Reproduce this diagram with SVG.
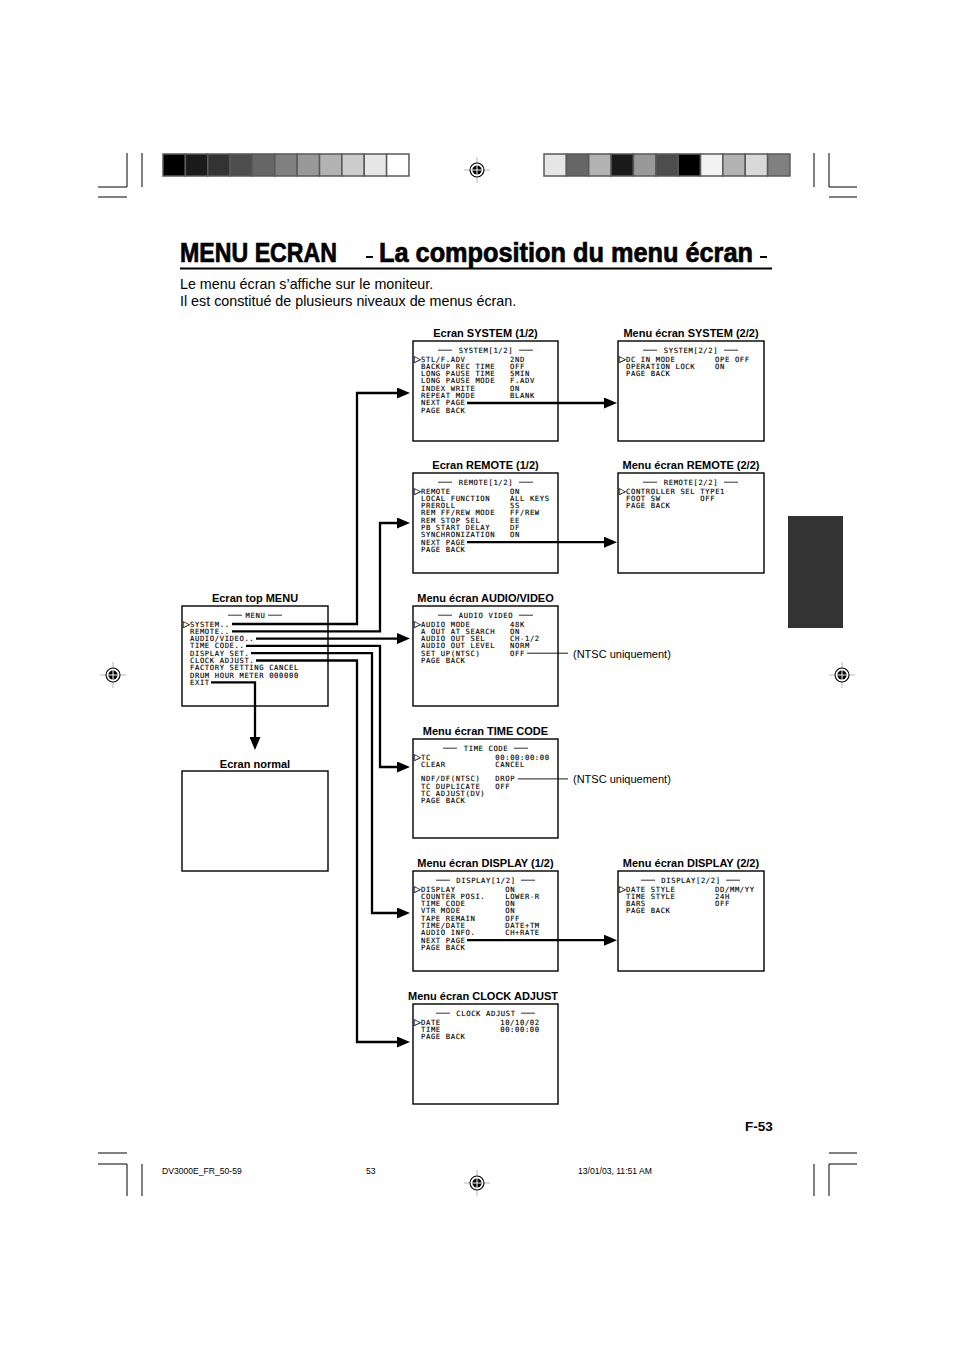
<svg xmlns="http://www.w3.org/2000/svg" width="954" height="1351" viewBox="0 0 954 1351">
<style>
.s{font-family:"DejaVu Sans Mono","Liberation Mono",monospace;font-size:7.2px;letter-spacing:0.62px;fill:#000;stroke:#000;stroke-width:0.12}
.h{font-family:"DejaVu Sans Mono","Liberation Mono",monospace;font-size:7.2px;letter-spacing:0.62px;fill:#000;stroke:#000;stroke-width:0.12;text-anchor:middle}
.p{font-family:"DejaVu Sans","Liberation Sans",sans-serif;font-size:9px;fill:#000;stroke:#000;stroke-width:0.2}
.t{font-family:"Liberation Sans",Arial,sans-serif;font-size:11px;font-weight:bold;text-anchor:middle;fill:#000}
.box{fill:#fff;stroke:#000;stroke-width:1.4}
.hl{stroke:#000;stroke-width:0.8}
.c{fill:none;stroke:#000;stroke-width:2.3}
.n{fill:none;stroke:#000;stroke-width:0.9}
.crop{stroke:#000;stroke-width:1}
.bar{stroke:#5a5a5a;stroke-width:1.5}
.foot{font-family:"Liberation Sans",Arial,sans-serif;font-size:8.6px;fill:#000}
.body{font-family:"Liberation Sans",Arial,sans-serif;font-size:14.3px;fill:#000}
.call{font-family:"Liberation Sans",Arial,sans-serif;font-size:11px;fill:#000}
.ttl{font-family:"Liberation Sans",Arial,sans-serif;font-weight:bold;font-size:27px;fill:#000;stroke:#000;stroke-width:0.7}
</style>
<defs>
<marker id="ah" markerUnits="userSpaceOnUse" markerWidth="13" markerHeight="11" refX="5" refY="5.5" orient="auto">
<path d="M0,0 L13,5.5 L0,11 z" fill="#000"/>
</marker>
<g id="reg">
<line x1="-13" y1="0" x2="13" y2="0" stroke="#999" stroke-width="0.7"/>
<line x1="0" y1="-13" x2="0" y2="13" stroke="#999" stroke-width="0.7"/>
<circle r="7" fill="#fff" stroke="#000" stroke-width="1.1"/>
<circle r="4.6" fill="#000"/>
<line x1="-4.6" y1="0" x2="4.6" y2="0" stroke="#fff" stroke-width="1"/>
<line x1="0" y1="-4.6" x2="0" y2="4.6" stroke="#fff" stroke-width="1"/>
</g>
</defs>
<rect width="954" height="1351" fill="#fff"/>

<!-- crop marks -->
<g id="cropmarks">
<line class="crop" x1="127" y1="153" x2="127" y2="187"/>
<line class="crop" x1="98" y1="187" x2="127" y2="187"/>
<line class="crop" x1="142" y1="153" x2="142" y2="187"/>
<line class="crop" x1="98" y1="197" x2="127" y2="197"/>
<line class="crop" x1="829" y1="153" x2="829" y2="187"/>
<line class="crop" x1="829" y1="187" x2="857" y2="187"/>
<line class="crop" x1="814" y1="153" x2="814" y2="187"/>
<line class="crop" x1="829" y1="197" x2="857" y2="197"/>
<line class="crop" x1="98" y1="1153" x2="127" y2="1153"/>
<line class="crop" x1="98" y1="1164" x2="127" y2="1164"/>
<line class="crop" x1="127" y1="1164" x2="127" y2="1196"/>
<line class="crop" x1="142" y1="1164" x2="142" y2="1196"/>
<line class="crop" x1="829" y1="1153" x2="857" y2="1153"/>
<line class="crop" x1="829" y1="1164" x2="857" y2="1164"/>
<line class="crop" x1="829" y1="1164" x2="829" y2="1196"/>
<line class="crop" x1="814" y1="1164" x2="814" y2="1196"/>
</g>

<!-- colour bars -->
<g id="bars-left">
<rect class="bar" x="163" y="154" width="22.36" height="22" fill="#000"/>
<rect class="bar" x="185.36" y="154" width="22.36" height="22" fill="#1a1a1a"/>
<rect class="bar" x="207.72" y="154" width="22.36" height="22" fill="#333"/>
<rect class="bar" x="230.08" y="154" width="22.36" height="22" fill="#4d4d4d"/>
<rect class="bar" x="252.44" y="154" width="22.36" height="22" fill="#666"/>
<rect class="bar" x="274.8" y="154" width="22.36" height="22" fill="#808080"/>
<rect class="bar" x="297.16" y="154" width="22.36" height="22" fill="#999"/>
<rect class="bar" x="319.52" y="154" width="22.36" height="22" fill="#b3b3b3"/>
<rect class="bar" x="341.88" y="154" width="22.36" height="22" fill="#ccc"/>
<rect class="bar" x="364.24" y="154" width="22.36" height="22" fill="#e6e6e6"/>
<rect class="bar" x="386.6" y="154" width="22.36" height="22" fill="#fff"/>
</g>
<g id="bars-right">
<rect class="bar" x="544" y="154" width="22.36" height="22" fill="#e6e6e6"/>
<rect class="bar" x="566.36" y="154" width="22.36" height="22" fill="#666"/>
<rect class="bar" x="588.72" y="154" width="22.36" height="22" fill="#b3b3b3"/>
<rect class="bar" x="611.08" y="154" width="22.36" height="22" fill="#1a1a1a"/>
<rect class="bar" x="633.44" y="154" width="22.36" height="22" fill="#999"/>
<rect class="bar" x="655.8" y="154" width="22.36" height="22" fill="#4d4d4d"/>
<rect class="bar" x="678.16" y="154" width="22.36" height="22" fill="#000"/>
<rect class="bar" x="700.52" y="154" width="22.36" height="22" fill="#f2f2f2"/>
<rect class="bar" x="722.88" y="154" width="22.36" height="22" fill="#b3b3b3"/>
<rect class="bar" x="745.24" y="154" width="22.36" height="22" fill="#d9d9d9"/>
<rect class="bar" x="767.6" y="154" width="22.36" height="22" fill="#808080"/>
</g>

<g id="regmarks">
<use href="#reg" x="477" y="170"/>
<use href="#reg" x="113" y="675"/>
<use href="#reg" x="842" y="675"/>
<use href="#reg" x="477" y="1183"/>
</g>

<!-- title -->
<g id="title">
<text class="ttl" x="180" y="262" textLength="157" lengthAdjust="spacingAndGlyphs">MENU ECRAN</text>
<rect x="366" y="256" width="7" height="2" fill="#000"/>
<text class="ttl" x="379" y="262" textLength="374" lengthAdjust="spacingAndGlyphs">La composition du menu écran</text>
<rect x="760" y="256" width="7" height="2" fill="#000"/>
<rect x="180" y="267.5" width="592" height="2" fill="#000"/>
<text class="body" x="180" y="289">Le menu écran s’affiche sur le moniteur.</text>
<text class="body" x="180" y="306">Il est constitué de plusieurs niveaux de menus écran.</text>
</g>

<rect id="tab" x="788" y="516" width="55" height="112" fill="#333"/>

<!-- SYSTEM 1/2 -->
<g id="system1">
<text class="t" x="485.5" y="337">Ecran SYSTEM (1/2)</text>
<rect class="box" x="413" y="341" width="145" height="100"/>
<line class="hl" x1="438" y1="350.2" x2="452" y2="350.2"/><line class="hl" x1="519" y1="350.2" x2="533" y2="350.2"/>
<text class="h" x="486" y="352.8">SYSTEM[1/2]</text>
<text class="p" x="414" y="362">▷</text>
<text class="s" x="421" y="361.5">STL/F.ADV</text><text class="s" x="510.1" y="361.5">2ND</text>
<text class="s" x="421" y="368.8">BACKUP REC TIME</text><text class="s" x="510.1" y="368.8">OFF</text>
<text class="s" x="421" y="376.1">LONG PAUSE TIME</text><text class="s" x="510.1" y="376.1">5MIN</text>
<text class="s" x="421" y="383.4">LONG PAUSE MODE</text><text class="s" x="510.1" y="383.4">F.ADV</text>
<text class="s" x="421" y="390.7">INDEX WRITE</text><text class="s" x="510.1" y="390.7">ON</text>
<text class="s" x="421" y="398">REPEAT MODE</text><text class="s" x="510.1" y="398">BLANK</text>
<text class="s" x="421" y="405.3">NEXT PAGE</text>
<text class="s" x="421" y="412.6">PAGE BACK</text>
</g>

<!-- SYSTEM 2/2 -->
<g id="system2">
<text class="t" x="691" y="337">Menu écran SYSTEM (2/2)</text>
<rect class="box" x="618" y="341" width="146" height="100"/>
<line class="hl" x1="643" y1="350.2" x2="657" y2="350.2"/><line class="hl" x1="724" y1="350.2" x2="738" y2="350.2"/>
<text class="h" x="691" y="352.8">SYSTEM[2/2]</text>
<text class="p" x="619" y="362">▷</text>
<text class="s" x="626" y="361.5">DC IN MODE</text><text class="s" x="715.1" y="361.5">OPE OFF</text>
<text class="s" x="626" y="368.8">OPERATION LOCK</text><text class="s" x="715.1" y="368.8">ON</text>
<text class="s" x="626" y="376.1">PAGE BACK</text>
</g>

<!-- REMOTE 1/2 -->
<g id="remote1">
<text class="t" x="485.5" y="469">Ecran REMOTE (1/2)</text>
<rect class="box" x="413" y="473" width="145" height="100"/>
<line class="hl" x1="438" y1="482.2" x2="452" y2="482.2"/><line class="hl" x1="519" y1="482.2" x2="533" y2="482.2"/>
<text class="h" x="486" y="484.8">REMOTE[1/2]</text>
<text class="p" x="414" y="494">▷</text>
<text class="s" x="421" y="493.5">REMOTE</text><text class="s" x="510.1" y="493.5">ON</text>
<text class="s" x="421" y="500.8">LOCAL FUNCTION</text><text class="s" x="510.1" y="500.8">ALL KEYS</text>
<text class="s" x="421" y="508.1">PREROLL</text><text class="s" x="510.1" y="508.1">5S</text>
<text class="s" x="421" y="515.4">REM FF/REW MODE</text><text class="s" x="510.1" y="515.4">FF/REW</text>
<text class="s" x="421" y="522.7">REM STOP SEL</text><text class="s" x="510.1" y="522.7">EE</text>
<text class="s" x="421" y="530">PB START DELAY</text><text class="s" x="510.1" y="530">DF</text>
<text class="s" x="421" y="537.3">SYNCHRONIZATION</text><text class="s" x="510.1" y="537.3">ON</text>
<text class="s" x="421" y="544.6">NEXT PAGE</text>
<text class="s" x="421" y="551.9">PAGE BACK</text>
</g>

<!-- REMOTE 2/2 -->
<g id="remote2">
<text class="t" x="691" y="469">Menu écran REMOTE (2/2)</text>
<rect class="box" x="618" y="473" width="146" height="100"/>
<line class="hl" x1="643" y1="482.2" x2="657" y2="482.2"/><line class="hl" x1="724" y1="482.2" x2="738" y2="482.2"/>
<text class="h" x="691" y="484.8">REMOTE[2/2]</text>
<text class="p" x="619" y="494">▷</text>
<text class="s" x="626" y="493.5">CONTROLLER SEL</text><text class="s" x="700.3" y="493.5">TYPE1</text>
<text class="s" x="626" y="500.8">FOOT SW</text><text class="s" x="700.3" y="500.8">OFF</text>
<text class="s" x="626" y="508.1">PAGE BACK</text>
</g>

<!-- TOP MENU -->
<g id="topmenu">
<text class="t" x="255" y="601.5">Ecran top MENU</text>
<rect class="box" x="182" y="606" width="146" height="100"/>
<line class="hl" x1="228" y1="615.2" x2="242" y2="615.2"/><line class="hl" x1="268" y1="615.2" x2="282" y2="615.2"/>
<text class="h" x="255.5" y="617.8">MENU</text>
<text class="p" x="183" y="627">▷</text>
<text class="s" x="190" y="626.5">SYSTEM..</text>
<text class="s" x="190" y="633.8">REMOTE..</text>
<text class="s" x="190" y="641.1">AUDIO/VIDEO..</text>
<text class="s" x="190" y="648.4">TIME CODE..</text>
<text class="s" x="190" y="655.7">DISPLAY SET.</text>
<text class="s" x="190" y="663">CLOCK ADJUST.</text>
<text class="s" x="190" y="670.3">FACTORY SETTING CANCEL</text>
<text class="s" x="190" y="677.6">DRUM HOUR METER 000000</text>
<text class="s" x="190" y="684.9">EXIT</text>
</g>

<!-- AUDIO VIDEO -->
<g id="audiovideo">
<text class="t" x="485.5" y="601.5">Menu écran AUDIO/VIDEO</text>
<rect class="box" x="413" y="606" width="145" height="100"/>
<line class="hl" x1="438" y1="615.2" x2="452" y2="615.2"/><line class="hl" x1="519" y1="615.2" x2="533" y2="615.2"/>
<text class="h" x="486" y="617.8">AUDIO VIDEO</text>
<text class="p" x="414" y="627">▷</text>
<text class="s" x="421" y="626.5">AUDIO MODE</text><text class="s" x="510.1" y="626.5">48K</text>
<text class="s" x="421" y="633.8">A OUT AT SEARCH</text><text class="s" x="510.1" y="633.8">ON</text>
<text class="s" x="421" y="641.1">AUDIO OUT SEL</text><text class="s" x="510.1" y="641.1">CH-1/2</text>
<text class="s" x="421" y="648.4">AUDIO OUT LEVEL</text><text class="s" x="510.1" y="648.4">NORM</text>
<text class="s" x="421" y="655.7">SET UP(NTSC)</text><text class="s" x="510.1" y="655.7">OFF</text>
<text class="s" x="421" y="663">PAGE BACK</text>
</g>

<!-- ECRAN NORMAL -->
<g id="normal">
<text class="t" x="255" y="767.5">Ecran normal</text>
<rect class="box" x="182" y="771" width="146" height="100"/>
</g>

<!-- TIME CODE -->
<g id="timecode">
<text class="t" x="485.5" y="734.5">Menu écran TIME CODE</text>
<rect class="box" x="413" y="739" width="145" height="99"/>
<line class="hl" x1="443" y1="748.2" x2="457" y2="748.2"/><line class="hl" x1="514" y1="748.2" x2="528" y2="748.2"/>
<text class="h" x="486" y="750.8">TIME CODE</text>
<text class="p" x="414" y="760">▷</text>
<text class="s" x="421" y="759.5">TC</text><text class="s" x="495.3" y="759.5">00:00:00:00</text>
<text class="s" x="421" y="766.8">CLEAR</text><text class="s" x="495.3" y="766.8">CANCEL</text>
<text class="s" x="421" y="781.4">NDF/DF(NTSC)</text><text class="s" x="495.3" y="781.4">DROP</text>
<text class="s" x="421" y="788.7">TC DUPLICATE</text><text class="s" x="495.3" y="788.7">OFF</text>
<text class="s" x="421" y="796">TC ADJUST(DV)</text>
<text class="s" x="421" y="803.3">PAGE BACK</text>
</g>

<!-- DISPLAY 1/2 -->
<g id="display1">
<text class="t" x="485.5" y="866.5">Menu écran DISPLAY (1/2)</text>
<rect class="box" x="413" y="871" width="145" height="100"/>
<line class="hl" x1="436" y1="880.2" x2="450" y2="880.2"/><line class="hl" x1="521" y1="880.2" x2="535" y2="880.2"/>
<text class="h" x="486" y="882.8">DISPLAY[1/2]</text>
<text class="p" x="414" y="892">▷</text>
<text class="s" x="421" y="891.5">DISPLAY</text><text class="s" x="505.2" y="891.5">ON</text>
<text class="s" x="421" y="898.8">COUNTER POSI.</text><text class="s" x="505.2" y="898.8">LOWER-R</text>
<text class="s" x="421" y="906.1">TIME CODE</text><text class="s" x="505.2" y="906.1">ON</text>
<text class="s" x="421" y="913.4">VTR MODE</text><text class="s" x="505.2" y="913.4">ON</text>
<text class="s" x="421" y="920.7">TAPE REMAIN</text><text class="s" x="505.2" y="920.7">OFF</text>
<text class="s" x="421" y="928">TIME/DATE</text><text class="s" x="505.2" y="928">DATE+TM</text>
<text class="s" x="421" y="935.3">AUDIO INFO.</text><text class="s" x="505.2" y="935.3">CH+RATE</text>
<text class="s" x="421" y="942.6">NEXT PAGE</text>
<text class="s" x="421" y="949.9">PAGE BACK</text>
</g>

<!-- DISPLAY 2/2 -->
<g id="display2">
<text class="t" x="691" y="866.5">Menu écran DISPLAY (2/2)</text>
<rect class="box" x="618" y="871" width="146" height="100"/>
<line class="hl" x1="641" y1="880.2" x2="655" y2="880.2"/><line class="hl" x1="726" y1="880.2" x2="740" y2="880.2"/>
<text class="h" x="691" y="882.8">DISPLAY[2/2]</text>
<text class="p" x="619" y="892">▷</text>
<text class="s" x="626" y="891.5">DATE STYLE</text><text class="s" x="715.1" y="891.5">DD/MM/YY</text>
<text class="s" x="626" y="898.8">TIME STYLE</text><text class="s" x="715.1" y="898.8">24H</text>
<text class="s" x="626" y="906.1">BARS</text><text class="s" x="715.1" y="906.1">OFF</text>
<text class="s" x="626" y="913.4">PAGE BACK</text>
</g>

<!-- CLOCK ADJUST -->
<g id="clock">
<text class="t" x="483" y="999.5">Menu écran CLOCK ADJUST</text>
<rect class="box" x="413" y="1004" width="145" height="100"/>
<line class="hl" x1="436" y1="1013.2" x2="450" y2="1013.2"/><line class="hl" x1="521" y1="1013.2" x2="535" y2="1013.2"/>
<text class="h" x="486" y="1015.8">CLOCK ADJUST</text>
<text class="p" x="414" y="1025">▷</text>
<text class="s" x="421" y="1024.5">DATE</text><text class="s" x="500.2" y="1024.5">10/10/02</text>
<text class="s" x="421" y="1031.8">TIME</text><text class="s" x="500.2" y="1031.8">00:00:00</text>
<text class="s" x="421" y="1039.1">PAGE BACK</text>
</g>

<!-- connectors -->
<g id="connectors">
<path class="c" marker-end="url(#ah)" d="M232,624 H357 V393 H402"/>
<path class="c" marker-end="url(#ah)" d="M232,631.3 H380 V523 H402"/>
<path class="c" marker-end="url(#ah)" d="M256,638.6 H402"/>
<path class="c" marker-end="url(#ah)" d="M246,645.9 H380 V767 H402"/>
<path class="c" marker-end="url(#ah)" d="M251,653.2 H372 V913 H402"/>
<path class="c" marker-end="url(#ah)" d="M256,660.5 H357 V1042 H402"/>
<path class="c" marker-end="url(#ah)" d="M211,682.4 H255 V742"/>
<path class="c" marker-end="url(#ah)" d="M467,403 H609"/>
<path class="c" marker-end="url(#ah)" d="M467,542.2 H609"/>
<path class="c" marker-end="url(#ah)" d="M467,940.2 H609"/>
<line class="n" x1="527" y1="653.2" x2="568" y2="653.2"/>
<line class="n" x1="518" y1="778.9" x2="568" y2="778.9"/>
</g>

<g id="callouts">
<text class="call" x="573" y="658">(NTSC uniquement)</text>
<text class="call" x="573" y="783">(NTSC uniquement)</text>
</g>

<g id="footer">
<text x="745" y="1131" font-family="Liberation Sans,Arial,sans-serif" font-weight="bold" font-size="13.5">F-53</text>
<text class="foot" x="162" y="1174">DV3000E_FR_50-59</text>
<text class="foot" x="366" y="1174">53</text>
<text class="foot" x="578" y="1174">13/01/03, 11:51 AM</text>
</g>
</svg>
